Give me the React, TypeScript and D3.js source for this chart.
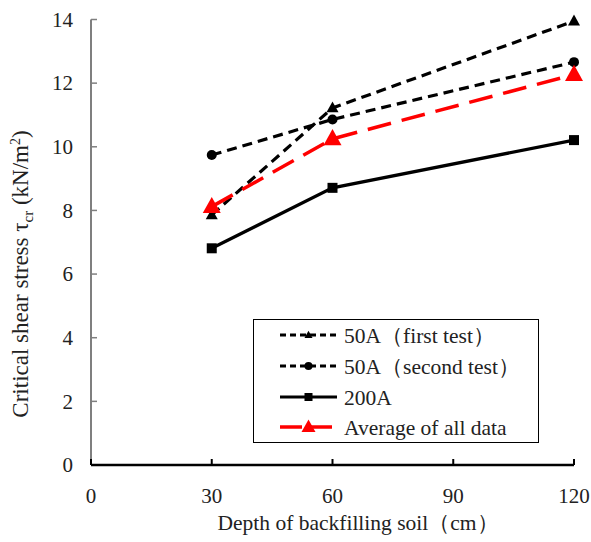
import React from "react";
import * as d3 from "d3";

const depths = [30, 60, 120];
const firstTest = [7.86, 11.22, 13.95];
const secondTest = [9.74, 10.86, 12.66];
const test200A = [6.81, 8.71, 10.21];
const average = [8.12, 10.25, 12.27];
const xTicks = [0, 30, 60, 90, 120];
const yTicks = [0, 2, 4, 6, 8, 10, 12, 14];
const seriesNames = ["50A（first test）", "50A（second test）", "200A", "Average of all data"];

const W = 591, H = 542;
const font = "'Liberation Serif', 'Times New Roman', serif";

export default function App() {
  const x = d3.scaleLinear().domain([0, 120]).range([91, 574]);
  const y = d3.scaleLinear().domain([0, 14]).range([465, 19.5]);
  const line = d3.line<[number, number]>().x(d => x(d[0])).y(d => y(d[1]));

  const series = [
    { name: seriesNames[0], vals: firstTest, color: "#000", dash: "10,6", width: 3.2, marker: "tri", size: 6 },
    { name: seriesNames[1], vals: secondTest, color: "#000", dash: "10,6", width: 3.2, marker: "circ", size: 5 },
    { name: seriesNames[2], vals: test200A, color: "#000", dash: null, width: 3.2, marker: "sq", size: 5 },
    { name: seriesNames[3], vals: average, color: "#FF0000", dash: "24,11", width: 3.5, marker: "tri", size: 9 },
  ];

  const marker = (type: string, cx: number, cy: number, s: number, color: string, key: any) => {
    if (type === "tri") {
      const h = s * 1.8;
      return <path key={key} d={`M${cx},${cy - h * 0.6} L${cx + s},${cy + h * 0.4} L${cx - s},${cy + h * 0.4} Z`} fill={color} />;
    }
    if (type === "circ") return <circle key={key} cx={cx} cy={cy} r={s} fill={color} />;
    return <rect key={key} x={cx - s} y={cy - s} width={2 * s} height={2 * s} fill={color} />;
  };

  const legendYs = [335, 366, 397, 427];

  return (
    <svg width={W} height={H} style={{ position: "absolute", left: 0, top: 0, background: "#fff" }}>
      <rect x={0} y={0} width={W} height={H} fill="#fff" />
      {/* y axis */}
      <line x1={x(0)} x2={x(0)} y1={y(14)} y2={y(0)} stroke="#7f7f7f" strokeWidth={2} />
      {yTicks.map(t => (
        <g key={t}>
          <line x1={x(0)} x2={x(0) + 6} y1={y(t)} y2={y(t)} stroke="#7f7f7f" strokeWidth={1.5} />
          <text x={x(0) - 18} y={y(t)} dy="0.35em" textAnchor="end" fontFamily={font} fontSize={21} fill="#222">{t}</text>
        </g>
      ))}
      {/* x axis */}
      <line x1={x(0)} x2={x(120)} y1={y(0)} y2={y(0)} stroke="#000" strokeWidth={2.5} />
      {xTicks.map(t => (
        <g key={t}>
          <line x1={x(t)} x2={x(t)} y1={y(0)} y2={y(0) - 6} stroke="#000" strokeWidth={2} />
          <text x={x(t)} y={503} textAnchor="middle" fontFamily={font} fontSize={21} fill="#222">{t}</text>
        </g>
      ))}
      <text x={358} y={530} textAnchor="middle" fontFamily={font} fontSize={21.5} fill="#222">Depth of backfilling soil（cm）</text>
      <text transform={`translate(28,274) rotate(-90)`} textAnchor="middle" fontFamily={font} fontSize={23} fill="#222">
        Critical shear stress τ<tspan fontSize={15} dy={5}>cr</tspan><tspan dy={-5}> (kN/m</tspan><tspan fontSize={14} dy={-8}>2</tspan><tspan dy={8}>)</tspan>
      </text>
      {/* series */}
      {series.map((s, i) => {
        const pts = depths.map((d, j) => [d, s.vals[j]] as [number, number]);
        return (
          <g key={i}>
            <path d={line(pts) || ""} fill="none" stroke={s.color} strokeWidth={s.width} strokeDasharray={s.dash || undefined} />
            {pts.map((p, j) => marker(s.marker, x(p[0]), y(p[1]), s.size, s.color, j))}
          </g>
        );
      })}
      {/* legend */}
      <rect x={253.5} y={319.5} width={285} height={123} fill="#fff" stroke="#000" strokeWidth={1} />
      {series.map((s, i) => (
        <g key={i}>
          <line x1={280} x2={337} y1={legendYs[i]} y2={legendYs[i]} stroke={s.color} strokeWidth={s.width}
            strokeDasharray={s.dash ? (i === 3 ? "22,8" : "6,4") : undefined} />
          {marker(s.marker, 308.5, legendYs[i], i === 3 ? 7 : 4, s.color, "m")}
          <text x={344} y={legendYs[i]} dy="0.35em" fontFamily={font} fontSize={21.5} fill="#222">{s.name}</text>
        </g>
      ))}
    </svg>
  );
}
